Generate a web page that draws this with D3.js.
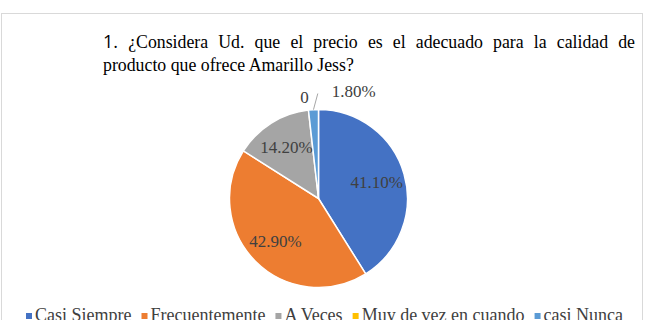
<!DOCTYPE html>
<html>
<head>
<meta charset="utf-8">
<script src="https://cdn.jsdelivr.net/npm/d3@7"></script>
<style>
  html, body { margin: 0; padding: 0; background: #fff; }
  svg { display: block; }
</style>
</head>
<body>
<div id="chart"></div>
<script>
// chart data
const categories = ['Casi Siempre', 'Frecuentemente', 'A Veces', 'Muy de vez en cuando', 'casi Nunca'];
const values = [41.1, 42.9, 14.2, 0, 1.8];
const labels = ['41.10%', '42.90%', '14.20%', '0', '1.80%'];
const colors = ['#4472C4', '#ED7D31', '#A5A5A5', '#FFC000', '#5B9BD5'];
const titleNum = '1.';
const titleLine1 = '¿Considera Ud. que el precio es el adecuado para la calidad de';
const titleLine2 = 'producto que ofrece Amarillo Jess?';

const W = 645, H = 320;
const SERIF = '"Liberation Serif", "Times New Roman", serif';
const TEXT = '#404040';
const FS = 17.8;

const svg = d3.select('#chart').append('svg').attr('width', W).attr('height', H);

// chart area frame
svg.append('rect')
  .attr('x', 1.5).attr('y', 13.5)
  .attr('width', 641).attr('height', 330)
  .attr('fill', 'none')
  .attr('stroke', '#d9d9d9');

// title, justified first line
const tLeft = 103, tRight = 635;
const t1 = svg.append('g').attr('fill', '#000');
const words = [titleNum].concat(titleLine1.split(' '));
const nodes = words.map((w, i) => t1.append('text')
  .attr('y', 48)
  .attr('font-family', i === 0 ? '"Open Sans", "DejaVu Sans", sans-serif' : SERIF)
  .attr('font-size', i === 0 ? 18 : FS)
  .text(w));
const widths = nodes.map((n) => n.node().getComputedTextLength());
const gap = (tRight - tLeft - d3.sum(widths)) / (words.length - 1);
let cx = tLeft;
nodes.forEach((n, i) => { n.attr('x', cx); cx += widths[i] + gap; });

svg.append('text')
  .attr('x', tLeft).attr('y', 71)
  .attr('font-family', SERIF).attr('font-size', FS)
  .text(titleLine2);

// pie
const center = [318.5, 198.5];
const R = 89;
const pie = d3.pie().sort(null).value((d) => d);
const arcs = pie(values);
const arc = d3.arc().innerRadius(0).outerRadius(R);
const g = svg.append('g').attr('transform', `translate(${center[0]},${center[1]})`);

g.selectAll('path.slice')
  .data(arcs)
  .enter()
  .append('path')
  .attr('class', 'slice')
  .attr('d', arc)
  .attr('fill', (d, i) => colors[i])
  .attr('stroke', '#fff')
  .attr('stroke-width', (d) => (d.value > 0 ? 1.5 : 0));

// inside labels
const inside = d3.arc().innerRadius(R * 0.68).outerRadius(R * 0.68);
g.selectAll('text.inl')
  .data(arcs.filter((d) => d.value >= 5))
  .enter()
  .append('text')
  .attr('class', 'inl')
  .attr('transform', (d) => `translate(${inside.centroid(d)})`)
  .attr('text-anchor', 'middle')
  .attr('dy', '0.35em')
  .attr('font-family', SERIF)
  .attr('font-size', 17)
  .attr('fill', TEXT)
  .text((d) => labels[d.index]);

// small slices: outside labels
const small = arcs[4];
const mid = (small.startAngle + small.endAngle) / 2;
const p0 = [Math.sin(mid) * R, -Math.cos(mid) * R];
const p1 = [Math.sin(mid + 0.05) * (R + 16), -Math.cos(mid + 0.05) * (R + 16)];
g.append('line')
  .attr('x1', p0[0]).attr('y1', p0[1])
  .attr('x2', p1[0]).attr('y2', p1[1])
  .attr('stroke', '#a6a6a6').attr('stroke-width', 1);
g.append('text')
  .attr('x', p1[0] + 14).attr('y', p1[1] + 3)
  .attr('font-family', SERIF).attr('font-size', 17).attr('fill', TEXT)
  .text(labels[4]);
g.append('text')
  .attr('x', p1[0] - 9).attr('y', p1[1] + 9)
  .attr('text-anchor', 'end')
  .attr('font-family', SERIF).attr('font-size', 17).attr('fill', TEXT)
  .text(labels[3]);

// legend (bottom row is clipped by the picture edge, as in the source)
const leg = svg.append('g').attr('font-family', SERIF).attr('font-size', 18).attr('fill', TEXT);
let lx = 26;
categories.forEach((c, i) => {
  leg.append('rect').attr('x', lx).attr('y', 313).attr('width', 6).attr('height', 6).attr('fill', colors[i]);
  const t = leg.append('text').attr('x', lx + 9).attr('y', 321).text(c);
  lx += 9 + t.node().getComputedTextLength() + 10;
});
</script>
</body>
</html>
